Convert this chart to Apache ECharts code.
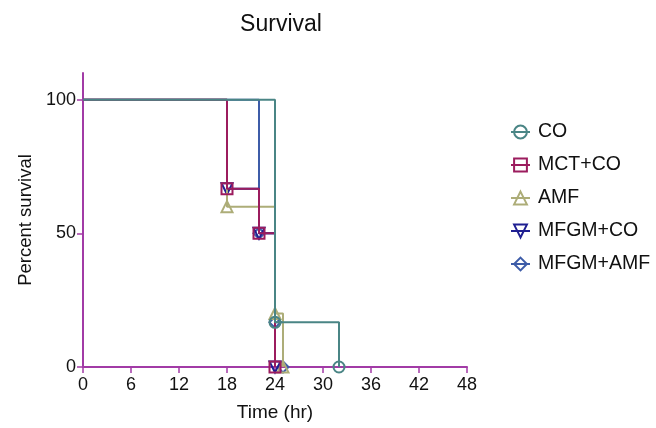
<!DOCTYPE html>
<html><head><meta charset="utf-8">
<script src="https://cdn.jsdelivr.net/npm/echarts@6/dist/echarts.min.js"></script>
<style>html,body{margin:0;padding:0;background:#fff}#c{width:656px;height:428px}</style>
</head><body><div id="c"></div>
<script>
const seriesNames = ['CO','MCT+CO','AMF','MFGM+CO','MFGM+AMF'];
const coTime = [0,24,32];            const coVal = [100,16.7,0];
const mctTime = [0,18,22,24];        const mctVal = [100,66.7,50,0];
const amfTime = [0,18,24,25];        const amfVal = [100,60,20,0];
const mfgmCoTime = [0,18,22,24];     const mfgmCoVal = [100,66.7,50,0];
const mfgmAmfTime = [0,22,24,25];    const mfgmAmfVal = [100,50,16.7,0];
const xTicks = [0,6,12,18,24,30,36,42,48];
const yTicks = [0,50,100];

const font = 'Liberation Sans, Arial, sans-serif';
const axisColor = '#a23ba6';
function mk(name, t, v, color, symbol, rotate, z) {
  return {
    name, type:'line', step:'end', z,
    data: t.map((x,i)=> i===0 ? {value:[x,v[i]], symbol:'none'} : {value:[x,v[i]]}),
    symbol, symbolSize: 11, symbolRotate: rotate, showAllSymbol:true,
    lineStyle:{color, width:2},
    itemStyle:{color:'rgba(255,255,255,0)', borderColor:color, borderWidth:2},
    emphasis:{disabled:true}, animation:false
  };
}
const chart = echarts.init(document.getElementById('c'));
chart.setOption({
  animation:false,
  title:{text:'Survival', left:276, top:8, textAlign:'center',
    textStyle:{fontFamily:font, fontSize:23, fontWeight:'normal', color:'#111'}},
  grid:{left:83, right:189, top:73, bottom:61, containLabel:false},
  legend:{
    data:seriesNames, orient:'vertical', left:505, top:117, itemGap:13, itemWidth:19, itemHeight:16,
    textStyle:{fontFamily:font, fontSize:19.5, color:'#111', padding:[0,0,0,3]}
  },
  xAxis:{type:'value', min:0, max:48, interval:6,
    name:'Time (hr)', nameLocation:'middle', nameGap:36,
    nameTextStyle:{fontFamily:font, fontSize:19, color:'#111'},
    axisLine:{show:true, lineStyle:{color:axisColor, width:2}},
    axisTick:{show:true, length:6, lineStyle:{color:axisColor, width:1.5}, customValues:xTicks},
    axisLabel:{fontFamily:font, fontSize:18, color:'#111', margin:9, customValues:xTicks},
    splitLine:{show:false}},
  yAxis:{type:'value', min:0, max:110,
    name:'Percent survival', nameLocation:'middle', nameGap:44,
    nameTextStyle:{fontFamily:font, fontSize:18.5, color:'#111'},
    axisLine:{show:true, lineStyle:{color:axisColor, width:2}},
    axisTick:{show:true, length:6, lineStyle:{color:axisColor, width:1.5}, customValues:yTicks},
    axisLabel:{fontFamily:font, fontSize:18, color:'#111', margin:7, customValues:yTicks},
    splitLine:{show:false}},
  series:[
    mk('MFGM+AMF', mfgmAmfTime, mfgmAmfVal, '#3d5ca8', 'diamond', 0, 2),
    mk('MFGM+CO', mfgmCoTime, mfgmCoVal, '#1f1f92', 'triangle', 180, 3),
    mk('AMF', amfTime, amfVal, '#adad78', 'triangle', 0, 4),
    mk('MCT+CO', mctTime, mctVal, '#9c1c5e', 'rect', 0, 5),
    mk('CO', coTime, coVal, '#4a8585', 'circle', 0, 6)
  ]
});
</script></body></html>
